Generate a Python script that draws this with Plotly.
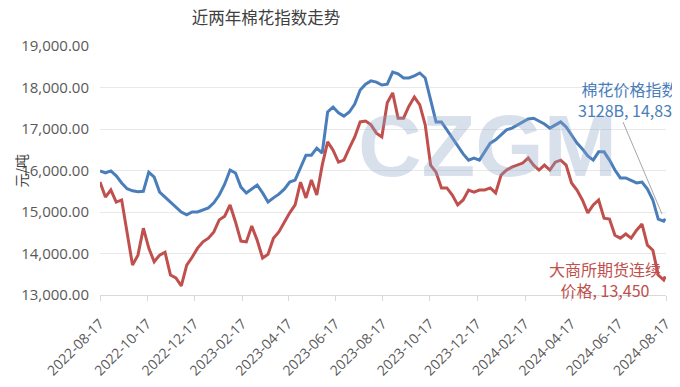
import pandas as pd
import plotly.graph_objects as go

# ---- data ----
dates = list(pd.date_range("2022-08-17", periods=105, freq="7D").strftime("%Y-%m-%d")) + ["2024-08-16"]

blue_name = "棉花价格指数3128B"
blue = [15990, 15940, 15990, 15870, 15700, 15560, 15510, 15490, 15500, 15960,
        15840, 15480, 15360, 15240, 15120, 15000, 14930, 15000, 15000, 15050,
        15100, 15220, 15410, 15670, 16010, 15940, 15600, 15460, 15550, 15650,
        15460, 15240, 15340, 15430, 15550, 15720, 15770, 16060, 16370, 16370,
        16540, 16420, 17410, 17530, 17390, 17310, 17410, 17600, 17940, 18080,
        18160, 18130, 18060, 18080, 18370, 18330, 18230, 18230, 18280, 18350,
        18230, 17700, 17170, 17170, 16980, 16810, 16590, 16400, 16250, 16300,
        16250, 16450, 16660, 16740, 16860, 16980, 17020, 17100, 17170, 17240,
        17260, 17190, 17120, 17020, 17100, 17170, 17050, 16860, 16660, 16520,
        16350, 16250, 16450, 16450, 16250, 16010, 15820, 15820, 15750, 15700,
        15720, 15550, 15290, 14830, 14780, 14839]

red_name = "大商所期货连续价格"
red = [15720, 15360, 15530, 15240, 15290, 14520, 13720, 13960, 14610, 14130,
       13800, 13960, 14030, 13480, 13410, 13220, 13720, 13910, 14130, 14280,
       14370, 14520, 14810, 14900, 15170, 14760, 14300, 14280, 14660, 14320,
       13890, 13980, 14370, 14520, 14760, 14980, 15170, 15720, 15340, 15770,
       15410, 16130, 16690, 16490, 16200, 16250, 16540, 16810, 17170, 17190,
       17100, 16900, 16810, 17630, 17870, 17260, 17260, 17550, 17770, 17580,
       17100, 16130, 15960, 15580, 15580, 15410, 15170, 15290, 15530, 15480,
       15530, 15530, 15580, 15460, 15890, 16010, 16080, 16130, 16180, 16300,
       16130, 16010, 16130, 16010, 16200, 16250, 16130, 15700, 15530, 15290,
       14980, 15170, 15290, 14850, 14830, 14440, 14370, 14470, 14370, 14560,
       14710, 14200, 14080, 13480, 13360, 13450]

x_ticks = ["2022-08-17", "2022-10-17", "2022-12-17", "2023-02-17", "2023-04-17",
           "2023-06-17", "2023-08-17", "2023-10-17", "2023-12-17", "2024-02-17",
           "2024-04-17", "2024-06-17", "2024-08-17"]
y_ticks = [13000, 14000, 15000, 16000, 17000, 18000, 19000]

title = "近两年棉花指数走势"
y_title = "元/吨"
watermark = "CZGM"

BLUE = "#4a7ebb"
RED = "#c0504d"
GREY = "#595959"
FONT = "Open Sans"
CJK = "Noto Sans CJK SC"

# the page body has an 8px margin; size the figure so it fits the 680x387 window
OFF = 8
W, H = 680 - OFF, 387 - OFF

fig = go.Figure()
fig.add_trace(go.Scatter(x=dates, y=blue, name=blue_name, mode="lines",
                         line=dict(color=BLUE, width=3)))
fig.add_trace(go.Scatter(x=dates, y=red, name=red_name, mode="lines",
                         line=dict(color=RED, width=3)))

fig.update_layout(
    width=W, height=H,
    margin=dict(l=100 - OFF, r=14, t=46 - OFF, b=92, autoexpand=False),
    paper_bgcolor="white", plot_bgcolor="white",
    showlegend=False,
    title=dict(text=title, x=(266 - OFF) / W, xanchor="center",
               y=1 - (18 - OFF) / H, yanchor="middle",
               font=dict(family=CJK, size=16.5, color="#404040")),
    xaxis=dict(type="date", range=[x_ticks[0], x_ticks[-1]],
               tickvals=x_ticks, ticktext=x_ticks, tickangle=-45,
               tickfont=dict(family=FONT, size=14, color=GREY),
               showgrid=False, showline=True, linecolor="#d9d9d9", linewidth=1,
               ticks="outside", ticklen=5, tickcolor="#d9d9d9",
               ticklabelstandoff=9),
    yaxis=dict(range=[13000, 19000], tickvals=y_ticks, tickformat=",.2f",
               tickfont=dict(family=FONT, size=15, color=GREY),
               showgrid=True, gridcolor="#e8e8e8", gridwidth=1, zeroline=False,
               showline=False, ticks="", ticklabelstandoff=10),
)

# watermark
fig.add_annotation(xref="paper", yref="paper", x=(487 - 100) / 566, y=(295 - 145) / 249,
                   text="<b>" + watermark + "</b>", showarrow=False,
                   font=dict(family="Liberation Sans", size=88, color="rgba(140,165,200,0.34)"),
                   xanchor="center", yanchor="middle")

# y-axis title
fig.add_annotation(xref="paper", yref="paper", x=(20 - 100) / 566, y=0.5,
                   text=y_title, textangle=-90, showarrow=False,
                   font=dict(family=CJK, size=14, color="#404040"),
                   xanchor="center", yanchor="middle")

def end_label(name, cut, last):
    return name[:cut] + "<br>" + name[cut:] + ", " + f"{last:,}"

fig.add_annotation(xref="paper", yref="paper", x=(629 - 100) / 566, y=(295 - 99) / 249,
                   text=end_label(blue_name, 6, blue[-1]), showarrow=False,
                   font=dict(family=CJK, size=16, color=BLUE), align="center",
                   xanchor="center", yanchor="middle")
fig.add_annotation(xref="paper", yref="paper", x=(605 - 100) / 566, y=(295 - 279) / 249,
                   text=end_label(red_name, 7, red[-1]), showarrow=False,
                   font=dict(family=CJK, size=16, color=RED), align="center",
                   xanchor="center", yanchor="middle")

# leader line for the blue label
fig.add_shape(type="line", xref="paper", yref="paper",
              x0=(623 - 100) / 566, y0=(295 - 122) / 249,
              x1=(662 - 100) / 566, y1=(295 - 214) / 249,
              line=dict(color="#a6a6a6", width=1))

fig.write_html("out.html")
